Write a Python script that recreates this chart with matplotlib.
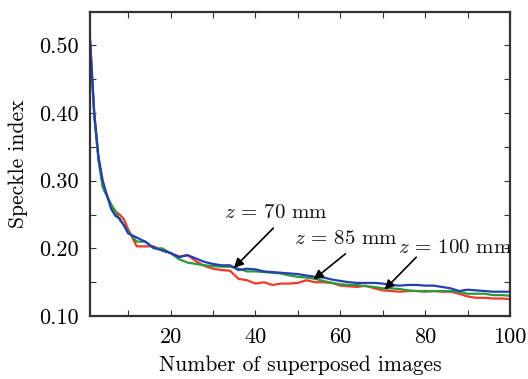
import numpy as np
import matplotlib
matplotlib.use("Agg")
import matplotlib.pyplot as plt
from matplotlib.ticker import FixedLocator

plt.rcParams["font.family"] = "cmr10"
plt.rcParams["mathtext.fontset"] = "cm"
plt.rcParams["axes.formatter.use_mathtext"] = True

# Number of superposed images
n_images = [1, 2, 3, 4, 5, 6, 7, 8, 9, 10,
            12, 14, 16, 18, 20, 22, 24, 26, 28, 30,
            32, 34, 36, 38, 40, 42, 44, 46, 48, 50,
            52, 54, 56, 58, 60, 62, 64, 66, 68, 70,
            72, 74, 76, 78, 80, 82, 84, 86, 88, 90,
            92, 94, 96, 98, 100]

# Speckle index for each distance
speckle_100mm = [0.505, 0.398, 0.332, 0.292, 0.279, 0.262, 0.254, 0.250, 0.243, 0.228,
                 0.203, 0.203, 0.203, 0.197, 0.193, 0.188, 0.190, 0.181, 0.174, 0.170,
                 0.168, 0.167, 0.155, 0.153, 0.148, 0.150, 0.146, 0.148, 0.148, 0.149,
                 0.153, 0.150, 0.150, 0.149, 0.145, 0.144, 0.143, 0.145, 0.141, 0.138,
                 0.137, 0.136, 0.137, 0.137, 0.137, 0.137, 0.136, 0.136, 0.133, 0.129,
                 0.127, 0.127, 0.126, 0.126, 0.125]
speckle_85mm = [0.505, 0.395, 0.330, 0.290, 0.277, 0.265, 0.255, 0.242, 0.234, 0.225,
                0.210, 0.210, 0.200, 0.200, 0.193, 0.184, 0.179, 0.177, 0.175, 0.174,
                0.173, 0.173, 0.170, 0.166, 0.166, 0.165, 0.164, 0.163, 0.160, 0.158,
                0.157, 0.155, 0.152, 0.149, 0.147, 0.146, 0.146, 0.144, 0.143, 0.141,
                0.141, 0.140, 0.138, 0.137, 0.136, 0.137, 0.137, 0.137, 0.136, 0.133,
                0.133, 0.133, 0.131, 0.131, 0.130]
speckle_70mm = [0.510, 0.400, 0.335, 0.300, 0.278, 0.258, 0.248, 0.244, 0.234, 0.222,
                0.216, 0.210, 0.201, 0.197, 0.193, 0.187, 0.190, 0.185, 0.180, 0.177,
                0.175, 0.175, 0.168, 0.170, 0.169, 0.166, 0.165, 0.164, 0.163, 0.162,
                0.160, 0.158, 0.157, 0.154, 0.152, 0.150, 0.149, 0.149, 0.149, 0.148,
                0.146, 0.145, 0.146, 0.146, 0.145, 0.145, 0.143, 0.141, 0.137, 0.139,
                0.138, 0.137, 0.136, 0.136, 0.136]

# Annotation labels: (text, text position, arrow tail, arrow tip)
annotations = [
    (r"$z$ = 70 mm", (44.8, 0.252), (44.2, 0.230), (34.9, 0.171)),
    (r"$z$ = 85 mm", (61.4, 0.214), (61.2, 0.192), (53.7, 0.154)),
    (r"$z$ = 100 mm", (87.1, 0.200), (77.9, 0.187), (70.4, 0.139)),
]

fig = plt.figure(figsize=(5.28, 3.79), dpi=100)
ax = fig.add_axes([0.1705, 0.166, 0.7955, 0.802])

ax.plot(n_images, speckle_100mm, color="#f03a2a", lw=1.6)
ax.plot(n_images, speckle_85mm, color="#2a9a3a", lw=1.6)
ax.plot(n_images, speckle_70mm, color="#2340b0", lw=1.6)

for text, xy_text, xy_tail, xy_tip in annotations:
    ax.annotate("", xy=xy_tip, xytext=xy_tail,
                arrowprops=dict(arrowstyle="-|>", color="black", lw=1.2,
                                mutation_scale=14, shrinkA=0, shrinkB=0))
    ax.text(xy_text[0], xy_text[1], text, ha="center", va="center",
            fontsize=15, color="#111111")

ax.set_xlim(1, 100)
ax.set_ylim(0.10, 0.549)
ax.xaxis.set_major_locator(FixedLocator([20, 40, 60, 80, 100]))
ax.xaxis.set_minor_locator(FixedLocator([10, 30, 50, 70, 90]))
ax.yaxis.set_major_locator(FixedLocator([0.1, 0.2, 0.3, 0.4, 0.5]))
ax.yaxis.set_minor_locator(FixedLocator([0.15, 0.25, 0.35, 0.45]))
ax.set_xticklabels(["20", "40", "60", "80", "100"])
ax.set_yticklabels(["0.10", "0.20", "0.30", "0.40", "0.50"])
ax.tick_params(which="both", direction="in", top=True, right=True,
               length=4, width=0.8, color="#333333", labelsize=16, pad=8)

for s in ax.spines.values():
    s.set_linewidth(1.6)
    s.set_color("#333333")

ax.set_xlabel("Number of superposed images", fontsize=15.5, labelpad=6)
ax.set_ylabel("Speckle index", fontsize=15.5, labelpad=8)

fig.savefig("out.png", dpi=100)
